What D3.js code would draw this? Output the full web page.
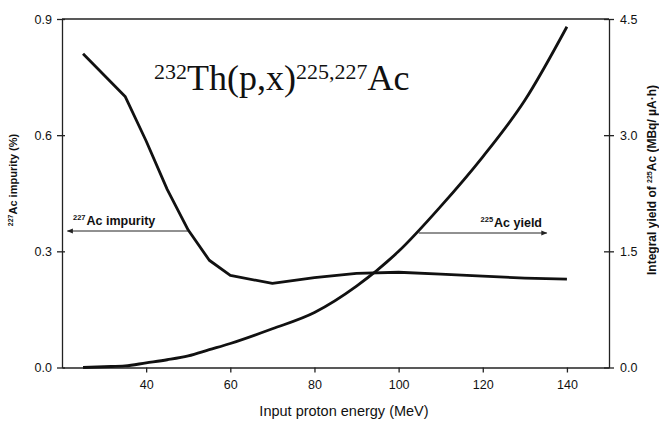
<html>
<head>
<style>
  body { margin: 0; background: #fff; }
  text { fill: #111; }
  .curve { fill: none; stroke: #111; stroke-width: 2.8; stroke-linejoin: round; }
  .frame { stroke: #222; stroke-width: 1.4; }
  .axis path, .axis line { stroke: #222; stroke-width: 1.3; }
  .axis text { font-family: "Liberation Sans", Arial, sans-serif; font-size: 12.5px; fill: #111; }
  .arrow { stroke: #222; stroke-width: 1; }
</style>
</head>
<body>
<svg id="chart" width="659" height="423"></svg>
<script src="https://cdn.jsdelivr.net/npm/d3@7"></script>
<script>
// values
let impEnergy = [25, 35, 40, 45, 50, 55, 60, 70, 80, 90, 100, 110, 120, 130, 140]
let impurity = [0.81, 0.70, 0.585, 0.46, 0.355, 0.277, 0.238, 0.217, 0.232, 0.243, 0.246, 0.241, 0.236, 0.231, 0.228]

let yieldEnergy = [25, 30, 35, 40, 45, 50, 55, 60, 70, 80, 90, 100, 110, 120, 130, 140]
let yieldValues = [0.0, 0.01, 0.02, 0.06, 0.10, 0.15, 0.23, 0.31, 0.50, 0.71, 1.05, 1.50, 2.08, 2.72, 3.45, 4.40]

let xTicks = [40, 60, 80, 100, 120, 140]
let leftTicks = [0.0, 0.3, 0.6, 0.9]
let rightTicks = [0.0, 1.5, 3.0, 4.5]

let svg = d3.select("#chart")
let plotLeft = 62, plotRight = 609, plotTop = 19, plotBottom = 367.5

let x = d3.scaleLinear().domain([20, 150]).range([plotLeft, plotRight])
let yL = d3.scaleLinear().domain([0, 0.9]).range([plotBottom, plotTop])
let yR = d3.scaleLinear().domain([0, 4.5]).range([plotBottom, plotTop])

// top frame line
svg.append("line").attr("class", "frame")
    .attr("x1", plotLeft).attr("x2", plotRight).attr("y1", plotTop).attr("y2", plotTop)

// x axis
svg.append("g").attr("class", "axis")
    .attr("transform", "translate(0," + plotBottom + ")")
    .call(d3.axisBottom(x).tickValues(xTicks).tickSize(5).tickSizeOuter(0).tickPadding(8).tickFormat(d3.format("d")))

// left axis
let gl = svg.append("g").attr("class", "axis")
    .attr("transform", "translate(" + plotLeft + ",0)")
    .call(d3.axisLeft(yL).tickValues(leftTicks).tickSize(5).tickSizeOuter(0).tickPadding(5).tickFormat(d3.format(".1f")))
gl.selectAll(".tick line").attr("x2", -5).attr("x1", 3)

// right axis
let gr = svg.append("g").attr("class", "axis")
    .attr("transform", "translate(" + plotRight + ",0)")
    .call(d3.axisRight(yR).tickValues(rightTicks).tickSize(5).tickSizeOuter(0).tickPadding(6).tickFormat(d3.format(".1f")))
gr.selectAll(".tick line").attr("x1", -5).attr("x2", 5)

svg.selectAll(".axis .domain").attr("stroke-width", 1.4)

// curves
let impLine = d3.line().x(d => x(d[0])).y(d => yL(d[1]))
svg.append("path").attr("class", "curve")
    .attr("d", impLine(d3.zip(impEnergy, impurity)))

let yieldLine = d3.line().x(d => x(d[0])).y(d => yR(d[1])).curve(d3.curveMonotoneX)
svg.append("path").attr("class", "curve")
    .attr("d", yieldLine(d3.zip(yieldEnergy, yieldValues)))

// arrow markers
let defs = svg.append("defs")
defs.append("marker").attr("id", "head")
    .attr("viewBox", "0 0 10 10").attr("refX", 9).attr("refY", 5)
    .attr("markerWidth", 8).attr("markerHeight", 6).attr("orient", "auto-start-reverse")
    .attr("markerUnits", "userSpaceOnUse")
    .append("path").attr("d", "M0,1 L10,5 L0,9 Z").attr("fill", "#222")

// 227Ac impurity arrow (points left, to left axis)
svg.append("line").attr("class", "arrow")
    .attr("x1", x(50)).attr("x2", x(21.3))
    .attr("y1", 231).attr("y2", 231)
    .attr("marker-end", "url(#head)")
let t1 = svg.append("text").attr("x", 73).attr("y", 225)
    .style("font-family", "Liberation Sans, Arial, sans-serif").style("font-weight", "bold").style("font-size", "12.5px")
t1.append("tspan").text("227").style("font-size", "7.5px").attr("dy", -5)
t1.append("tspan").text("Ac impurity").attr("dy", 5).attr("dx", 1)

// 225Ac yield arrow (points right)
svg.append("line").attr("class", "arrow")
    .attr("x1", x(104.8)).attr("x2", x(135.2))
    .attr("y1", 233).attr("y2", 233)
    .attr("marker-end", "url(#head)")
let t2 = svg.append("text").attr("x", 542).attr("y", 227).attr("text-anchor", "end")
    .style("font-family", "Liberation Sans, Arial, sans-serif").style("font-weight", "bold").style("font-size", "12.5px")
t2.append("tspan").text("225").style("font-size", "7.5px").attr("dy", -5)
t2.append("tspan").text("Ac yield").attr("dy", 5).attr("dx", 1)

// title
let title = svg.append("text").attr("x", 154).attr("y", 90)
    .style("font-family", "Liberation Serif, Times New Roman, serif").style("font-size", "36px")
title.append("tspan").text("232").style("font-size", "22px").attr("dy", -11)
title.append("tspan").text("Th(p,x)").attr("dy", 11)
title.append("tspan").text("225,227").style("font-size", "22px").attr("dy", -11)
title.append("tspan").text("Ac").attr("dy", 11)

// axis titles
svg.append("text").attr("x", 344).attr("y", 416).attr("text-anchor", "middle")
    .style("font-family", "Liberation Sans, Arial, sans-serif").style("font-size", "14.5px")
    .text("Input proton energy (MeV)")

let ly = svg.append("text").attr("transform", "translate(17,180) rotate(-90)").attr("text-anchor", "middle")
    .style("font-family", "Liberation Sans, Arial, sans-serif").style("font-weight", "bold").style("font-size", "11px")
ly.append("tspan").text("227").style("font-size", "7px").attr("dy", -4)
ly.append("tspan").text("Ac impurity (%)").attr("dy", 4)

let ry = svg.append("text").attr("transform", "translate(656,180) rotate(-90)").attr("text-anchor", "middle")
    .style("font-family", "Liberation Sans, Arial, sans-serif").style("font-weight", "bold").style("font-size", "12px")
ry.append("tspan").text("Integral yield of ")
ry.append("tspan").text("225").style("font-size", "7px").attr("dy", -4)
ry.append("tspan").text("Ac (MBq/ µA·h)").attr("dy", 4)
</script>
</body>
</html>
